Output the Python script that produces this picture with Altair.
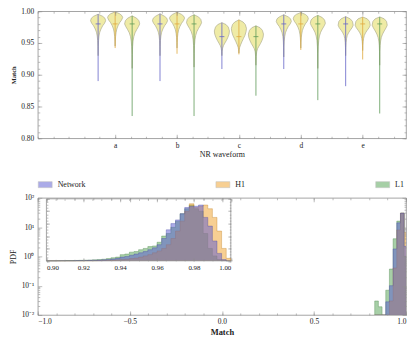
import altair as alt
import pandas as pd

# ---------------- data ----------------
GROUPS = ["a", "b", "c", "d", "e"]
GROUP_POS = [1, 2, 3, 4, 5]
SERIES = ["Network", "H1", "L1"]
SERIES_SHIFT = [-0.275, 0.0, 0.275]
LINE_COLORS = ["#6464c8", "#e0a83c", "#5f9a58"]

# violin outline: y levels (top -> bottom) paired with a width-fraction profile
WIDTH_PROFILE = [0, 0.6, 0.9, 1.0, 0.85, 0.6, 0.38, 0.22, 0.12, 0.06, 0.025, 0]
WIDTH_PROFILE_C = [0, 0.55, 0.85, 1.0, 0.95, 0.8, 0.6, 0.4, 0.22, 0.1, 0.04, 0]
VIOLIN_HALF_WIDTH = 0.122

VIOLIN_LEVELS = {
    "a": [[0.9953, 0.992, 0.989, 0.985, 0.981, 0.977, 0.972, 0.967, 0.961, 0.954, 0.944, 0.930],
          [0.9990, 0.996, 0.993, 0.990, 0.986, 0.982, 0.977, 0.972, 0.966, 0.960, 0.953, 0.945],
          [0.9927, 0.989, 0.985, 0.980, 0.976, 0.971, 0.966, 0.960, 0.953, 0.944, 0.932, 0.910]],
    "b": [[0.9960, 0.992, 0.989, 0.985, 0.981, 0.977, 0.972, 0.967, 0.961, 0.954, 0.944, 0.930],
          [0.9985, 0.995, 0.992, 0.989, 0.985, 0.981, 0.976, 0.971, 0.965, 0.959, 0.951, 0.942],
          [0.9945, 0.991, 0.987, 0.982, 0.978, 0.973, 0.968, 0.962, 0.955, 0.946, 0.934, 0.912]],
    "c": [[0.9820, 0.979, 0.975, 0.969, 0.964, 0.959, 0.954, 0.950, 0.946, 0.942, 0.937, 0.930],
          [0.9864, 0.983, 0.979, 0.973, 0.968, 0.962, 0.957, 0.952, 0.947, 0.943, 0.939, 0.934],
          [0.9770, 0.974, 0.970, 0.964, 0.959, 0.954, 0.949, 0.945, 0.941, 0.936, 0.929, 0.915]],
    "d": [[0.9945, 0.991, 0.988, 0.984, 0.980, 0.976, 0.971, 0.966, 0.960, 0.953, 0.943, 0.928],
          [0.9980, 0.995, 0.992, 0.988, 0.984, 0.980, 0.975, 0.970, 0.964, 0.958, 0.950, 0.942],
          [0.9935, 0.990, 0.986, 0.981, 0.977, 0.972, 0.967, 0.961, 0.954, 0.945, 0.933, 0.910]],
    "e": [[0.9915, 0.988, 0.984, 0.978, 0.974, 0.970, 0.966, 0.962, 0.957, 0.951, 0.943, 0.930],
          [0.9910, 0.988, 0.984, 0.978, 0.974, 0.970, 0.966, 0.962, 0.957, 0.952, 0.946, 0.938],
          [0.9910, 0.988, 0.984, 0.978, 0.974, 0.969, 0.964, 0.959, 0.953, 0.946, 0.936, 0.915]],
}
WHISKER_LOW = {"a": [0.890, 0.942, 0.835], "b": [0.890, 0.933, 0.835], "c": [0.909, 0.932, 0.867],
               "d": [0.909, 0.939, 0.860], "e": [0.882, 0.924, 0.839]}
MEDIAN = {"a": [0.980, 0.980, 0.980], "b": [0.980, 0.980, 0.980], "c": [0.960, 0.960, 0.960],
          "d": [0.980, 0.980, 0.980], "e": [0.980, 0.980, 0.980]}

# main histogram (PDF, log axis): bin left edges, width 0.02
HIST_EDGES = [0.83, 0.85, 0.87, 0.89, 0.91, 0.93, 0.95, 0.97, 0.99]
HIST_BIN = 0.02
HIST_PDF = {
    "L1":      [0.03, 0.019, 0.0, 0.07, 0.37, 4.0, 16.0, 30.0, 1.0],
    "H1":      [0.0, 0.0, 0.0, 0.0, 0.03, 0.4, 8.0, 30.0, 6.6],
    "Network": [0.0, 0.0, 0.0, 0.028, 0.1, 1.8, 14.0, 30.0, 2.2],
}

# inset histogram (linear axis): 40 bins of 0.0025 from 0.90
INSET_START = 0.90
INSET_BIN = 0.0025
INSET_PDF = {
    "L1": [0, 0, 0.1, 0.1, 0.2, 0.2, 0.3, 0.4, 0.5, 0.6, 0.8, 1.0, 1.3, 1.8, 2.5, 3.0,
           5.0, 5.5, 7.0, 7.5, 9.0, 10.0, 11.5, 12.0, 15.0, 20.0, 22.0, 27.0, 32.0, 38.0,
           42.0, 45.0, 42.0, 40.0, 22.0, 10.0, 4.0, 1.0, 0.2, 0],
    "H1": [0, 0, 0, 0, 0, 0, 0, 0, 0.1, 0.1, 0.1, 0.2, 0.3, 0.4, 0.6, 0.8,
           1.0, 1.3, 1.8, 2.2, 3.0, 4.0, 5.0, 6.5, 8.0, 10.0, 13.0, 18.0, 24.0, 32.0,
           40.0, 46.0, 43.0, 44.0, 45.0, 42.0, 35.0, 24.0, 10.0, 2.0],
    "Network": [0, 0, 0, 0.1, 0.1, 0.1, 0.2, 0.2, 0.3, 0.4, 0.5, 0.6, 0.8, 1.0, 1.5, 2.0,
                3.0, 3.5, 4.5, 5.5, 6.5, 7.5, 9.0, 10.5, 13.0, 18.0, 25.0, 30.0, 33.0, 38.0,
                43.0, 44.0, 44.0, 45.0, 35.0, 28.0, 16.0, 6.0, 1.0, 0],
}

FILL_COLORS = ["#5a5ad2", "#f0a028", "#50a050"]
EDGE_COLORS = {"Network": "#4848a8", "H1": "#c08020", "L1": "#408040"}

# ---------------- style ----------------
FONT = "Liberation Serif"
AX = "#8e8e8e"
W = 371
H_TOP = 128
H_BOT = 118
INSET_L, INSET_R, INSET_T, INSET_B = 8.7, 194.5, 1.0, 63.5

# ---------------- tables ----------------
vrows, wrows = [], []
for gi, g in enumerate(GROUPS):
    prof = WIDTH_PROFILE_C if g == "c" else WIDTH_PROFILE
    for si, s in enumerate(SERIES):
        c = GROUP_POS[gi] + SERIES_SHIFT[si]
        lv = VIOLIN_LEVELS[g][si]
        for k, (y, f) in enumerate(zip(lv, prof)):
            vrows.append(dict(vid=f"{g}-{s}", k=k, y=y,
                              xl=c - f * VIOLIN_HALF_WIDTH, xr=c + f * VIOLIN_HALF_WIDTH))
        wrows.append(dict(vid=f"{g}-{s}", xc=c, lo=WHISKER_LOW[g][si], hi=lv[0],
                          med=MEDIAN[g][si], ml=c - 0.04, mr=c + 0.04, col=LINE_COLORS[si]))
vdf = pd.DataFrame(vrows)
wdf = pd.DataFrame(wrows)


def fill_table(edges, width, vals, series, base):
    rows = [(e, max(v, base)) for e, v in zip(edges, vals)]
    rows.append((edges[-1] + width, base))
    return pd.DataFrame([dict(x=x, pdf=p, base=base, series=series) for x, p in rows])


def edge_table(edges, width, vals, series, base):
    rows = [(edges[0], base)]
    rows += [(e, max(v, base)) for e, v in zip(edges, vals)]
    rows.append((edges[-1] + width, base))
    return pd.DataFrame([dict(k=i, x=x, pdf=p, edge=EDGE_COLORS[series])
                         for i, (x, p) in enumerate(rows)])


def tick_axis(orient, offset, values, size):
    return alt.Axis(orient=orient, offset=offset, values=values, tickSize=size, labels=False,
                    domain=False, grid=False, ticks=True, title=None, tickColor=AX,
                    tickWidth=0.6, zindex=1)


def frame_ticks(data, xf, yf, xsc, ysc, xmaj, xmin, ymaj, ymin, left, right, top, bottom, h, big, small):
    def lay(xa, ya):
        return alt.Chart(data).mark_point(opacity=0, size=1).encode(
            x=alt.X(xf, scale=xsc, axis=xa), y=alt.Y(yf, scale=ysc, axis=ya))
    xb = lambda v, s: tick_axis("top", -bottom, v, s)
    xt = lambda v, s: tick_axis("bottom", -(h - top), v, s)
    yl = lambda v, s: tick_axis("right", -(W - left), v, s)
    yr = lambda v, s: tick_axis("left", -right, v, s)
    return [lay(xb(xmaj, big), yl(ymaj, big)), lay(xb(xmin, small), yl(ymin, small)),
            lay(xt(xmaj, big), yr(ymaj, big)), lay(xt(xmin, small), yr(ymin, small))]


# ---------------- top panel: violins ----------------
XS_TOP = alt.Scale(domain=[-0.25, 5.7], nice=False, zero=False)
YS_TOP = alt.Scale(domain=[0.80, 1.00], nice=False, zero=False)
cat_expr = ("datum.value == 1 ? 'a' : datum.value == 2 ? 'b' : datum.value == 3 ? 'c' : "
            "datum.value == 4 ? 'd' : 'e'")

violins = alt.Chart(vdf).mark_area(orient="horizontal", fill="#efeba6", stroke="#b0ae90",
                                   strokeWidth=0.7).encode(
    y=alt.Y("y:Q", scale=YS_TOP,
            axis=alt.Axis(orient="left", values=[0.80, 0.85, 0.90, 0.95, 1.00], format=".2f",
                          ticks=False, tickSize=0, domain=False, grid=False, title="Match",
                          labelPadding=4, titlePadding=4, titleFontSize=6.5, titleFontWeight="bold")),
    x=alt.X("xl:Q", scale=XS_TOP,
            axis=alt.Axis(orient="bottom", values=[1, 2, 3, 4, 5], labelExpr=cat_expr,
                          ticks=False, tickSize=0, domain=False, grid=False, title="NR waveform",
                          labelPadding=3, titlePadding=2)),
    x2="xr:Q",
    detail="vid:N",
)
whiskers = alt.Chart(wdf).mark_rule(strokeWidth=0.8).encode(
    x=alt.X("xc:Q", scale=XS_TOP, axis=None),
    y=alt.Y("lo:Q", scale=YS_TOP, axis=None), y2="hi:Q",
    stroke=alt.Stroke("col:N", scale=None))
medians = alt.Chart(wdf).mark_rule(strokeWidth=0.8).encode(
    x=alt.X("ml:Q", scale=XS_TOP, axis=None), x2="mr:Q",
    y=alt.Y("med:Q", scale=YS_TOP, axis=None),
    stroke=alt.Stroke("col:N", scale=None))

top_ticks = frame_ticks(wdf.head(1), "xc:Q", "med:Q", XS_TOP, YS_TOP,
                        [1, 2, 3, 4, 5], [i * 0.25 for i in range(-1, 23)],
                        [0.80, 0.85, 0.90, 0.95, 1.00], [round(0.80 + i * 0.01, 2) for i in range(21)],
                        0, W, 0, H_TOP, H_TOP, 4, 2)

top = alt.layer(violins, whiskers, medians, *top_ticks).resolve_axis(
    x="independent", y="independent").properties(width=W, height=H_TOP)

# ---------------- bottom panel: histograms ----------------
XS_M = alt.Scale(domain=[-1, 1], nice=False, zero=False)
YS_M = alt.Scale(type="log", domain=[0.01, 100], nice=False)
FILL_SCALE = alt.Scale(domain=SERIES, range=FILL_COLORS)
LEGEND = alt.Legend(title=None, orient="none", legendX=0, legendY=-21, direction="horizontal",
                    symbolType="M-1,-0.43L1,-0.43L1,0.43L-1,0.43Z", symbolSize=196,
                    symbolOpacity=0.5, symbolStrokeColor="#808080", symbolStrokeWidth=0.5,
                    labelFont=FONT, labelFontSize=8, labelOffset=5, columnPadding=130,
                    padding=0, labelColor="#222")
pow_expr = ("datum.value < 0.05 ? '10⁻²' : datum.value < 0.5 ? '10⁻¹' : "
            "datum.value < 5 ? '10⁰' : datum.value < 50 ? '10¹' : '10²'")

order_draw = ["L1", "H1", "Network"]
main_layers = []
for i, s in enumerate(order_draw):
    d = fill_table(HIST_EDGES, HIST_BIN, HIST_PDF[s], s, 0.01)
    de = edge_table(HIST_EDGES, HIST_BIN, HIST_PDF[s], s, 0.01)
    if i == 0:
        xa = alt.Axis(orient="bottom", values=[-1.0, -0.5, 0.0, 0.5, 1.0], format=".1f",
                      ticks=False, tickSize=0, domain=False, grid=False, title="Match",
                      labelPadding=3, titlePadding=2, titleFontSize=8.5, titleFontWeight="bold")
        ya = alt.Axis(orient="left", values=[0.01, 0.1, 1, 10, 100], labelExpr=pow_expr,
                      ticks=False, tickSize=0, domain=False, grid=False, title="PDF",
                      labelPadding=4, titlePadding=4)
    else:
        xa, ya = None, None
    main_layers.append(alt.Chart(d).mark_area(interpolate="step-after", fillOpacity=0.5,
                                              clip=True).encode(
        x=alt.X("x:Q", scale=XS_M, axis=xa), y=alt.Y("pdf:Q", scale=YS_M, axis=ya), y2="base:Q",
        fill=alt.Fill("series:N", scale=FILL_SCALE, legend=LEGEND)))
    main_layers.append(alt.Chart(de).mark_line(interpolate="step-after", strokeWidth=0.6,
                                               strokeOpacity=0.6, clip=True).encode(
        x=alt.X("x:Q", scale=XS_M, axis=None), y=alt.Y("pdf:Q", scale=YS_M, axis=None),
        stroke=alt.Stroke("edge:N", scale=None), order=alt.Order("k:Q")))

log_minor = [m * 10.0 ** e for e in range(-2, 2) for m in range(2, 10)]
tick_src = pd.DataFrame({"x": [0.0], "pdf": [1.0]})
main_ticks = frame_ticks(tick_src, "x:Q", "pdf:Q", XS_M, YS_M,
                         [-1.0, -0.5, 0.0, 0.5, 1.0], [round(-1 + 0.1 * i, 1) for i in range(21)],
                         [0.01, 0.1, 1, 10, 100], log_minor, 0, W, 0, H_BOT, H_BOT, 4, 2)
main_group = alt.layer(*main_layers, *main_ticks).resolve_axis(x="independent", y="independent")

# inset
XS_I = alt.Scale(domain=[0.90, 1.00], range=[INSET_L, INSET_R], nice=False, zero=False)
YS_I = alt.Scale(domain=[0, 50], range=[INSET_B, INSET_T], nice=False, zero=False)
inset_edges = [INSET_START + INSET_BIN * i for i in range(40)]
frame = alt.Chart(pd.DataFrame({"x0": [0.90], "x1": [1.00], "y0": [0], "y1": [50]})).mark_rect(
    fill="white", stroke=AX, strokeWidth=0.8).encode(
    x=alt.X("x0:Q", scale=XS_I,
            axis=alt.Axis(orient="bottom", offset=-(H_BOT - INSET_B),
                          values=[0.90, 0.92, 0.94, 0.96, 0.98, 1.00], format=".2f",
                          ticks=False, tickSize=0, domain=False, grid=False, title=None,
                          labelPadding=3, labelFontSize=7)),
    x2="x1:Q", y=alt.Y("y0:Q", scale=YS_I, axis=None), y2="y1:Q")
inset_layers = [frame]
for s in order_draw:
    d = fill_table(inset_edges, INSET_BIN, INSET_PDF[s], s, 0.0)
    de = edge_table(inset_edges, INSET_BIN, INSET_PDF[s], s, 0.0)
    inset_layers.append(alt.Chart(d).mark_area(interpolate="step-after", fillOpacity=0.5).encode(
        x=alt.X("x:Q", scale=XS_I, axis=None), y=alt.Y("pdf:Q", scale=YS_I, axis=None), y2="base:Q",
        fill=alt.Fill("series:N", scale=FILL_SCALE, legend=LEGEND)))
    inset_layers.append(alt.Chart(de).mark_line(interpolate="step-after", strokeWidth=0.6,
                                                strokeOpacity=0.6).encode(
        x=alt.X("x:Q", scale=XS_I, axis=None), y=alt.Y("pdf:Q", scale=YS_I, axis=None),
        stroke=alt.Stroke("edge:N", scale=None), order=alt.Order("k:Q")))
tick_src_i = pd.DataFrame({"x": [0.95], "pdf": [10.0]})
inset_ticks = frame_ticks(tick_src_i, "x:Q", "pdf:Q", XS_I, YS_I,
                          [0.90, 0.92, 0.94, 0.96, 0.98, 1.00],
                          [round(0.90 + 0.005 * i, 3) for i in range(21)],
                          [0, 10, 20, 30, 40, 50], [2.5 * i for i in range(21)],
                          INSET_L, INSET_R, INSET_T, INSET_B, H_BOT, 3, 1.5)
inset_group = alt.layer(*inset_layers, *inset_ticks).resolve_axis(x="independent", y="independent")

bottom = alt.layer(main_group, inset_group).resolve_scale(
    x="independent", y="independent").properties(width=W, height=H_BOT)

chart = alt.vconcat(top, bottom, spacing=17).resolve_scale(fill="independent").resolve_legend(
    fill="independent").properties(
    padding={"left": 0, "top": -3, "right": 0, "bottom": 0}).configure_view(
    stroke=AX, strokeWidth=0.8).configure_axis(
    labelFont=FONT, titleFont=FONT, labelFontSize=7.5, titleFontSize=8, labelColor="#222",
    titleColor="#222", titleFontWeight="normal").configure_legend(labelFont=FONT)

chart.save("out.html", embed_options={"renderer": "svg", "actions": False})
